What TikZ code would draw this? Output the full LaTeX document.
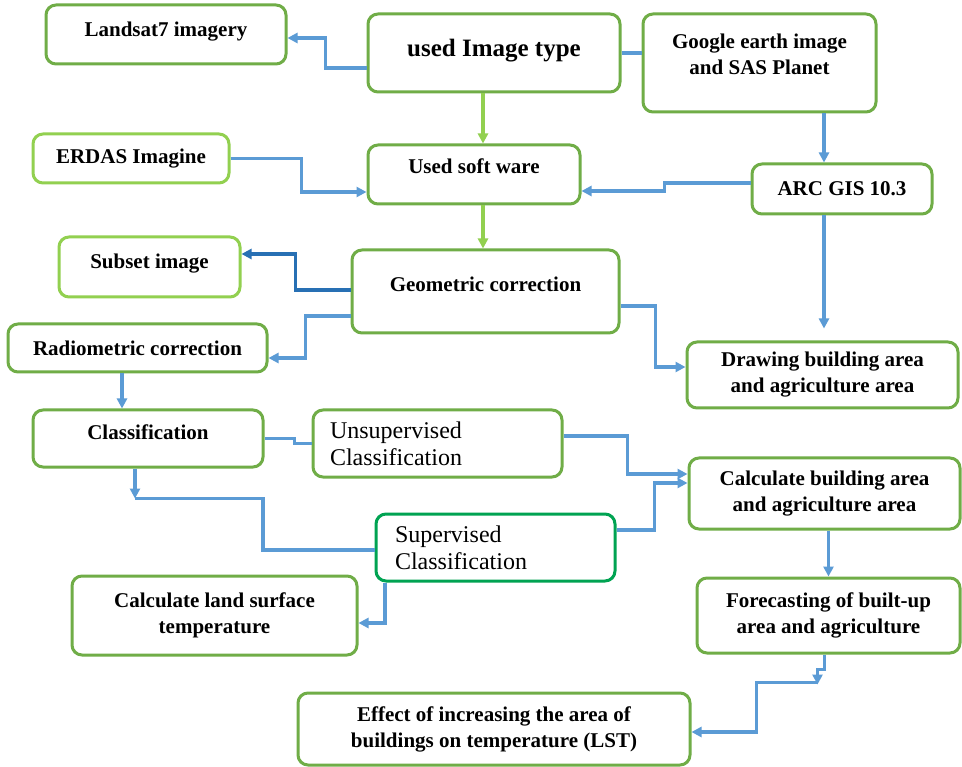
\documentclass[tikz,border=0pt]{standalone}
\usepackage{fontspec}
\setmainfont{Liberation Serif}
\usepackage{tikz}
\usetikzlibrary{arrows.meta, calc}
\definecolor{boxgreen}{RGB}{112,173,71}
\definecolor{lightgreen}{RGB}{146,208,80}
\definecolor{supgreen}{RGB}{0,163,82}
\definecolor{flowblue}{RGB}{91,155,213}
\definecolor{darkflow}{RGB}{40,112,180}
\tikzset{
    stagebox/.style={draw=boxgreen, line width=3pt, rounded corners=10pt, fill=white, align=center, inner sep=0pt, font=\bfseries\fontsize{21}{26}\selectfont},
    lightbox/.style={stagebox, draw=lightgreen},
    classbox/.style={stagebox, align=left, inner xsep=17pt, inner ysep=0pt, font=\fontsize{24}{27}\selectfont},
    flow/.style={-{Triangle[length=10pt,width=10pt]}, draw=flowblue, line width=3.2pt},
    flowline/.style={draw=flowblue, line width=3.2pt},
    flowgreen/.style={flow, draw=lightgreen},
    flowdark/.style={flow, draw=darkflow},
}

\begin{document}
\begin{tikzpicture}[x=1pt, y=-1pt]
        \fill[white] (0,0) rectangle (962,767);
        \useasboundingbox (0,0) rectangle (962,767);
        % Input data and software
        \node[stagebox, minimum width=240pt, minimum height=59pt, text depth=11pt] (land) at (166,34.5) {Landsat7 imagery};
        \node[stagebox, minimum width=252pt, minimum height=78pt, text depth=10pt, font=\bfseries\fontsize{25}{30}\selectfont] (imgtype) at (494,53) {used Image type};
        \node[stagebox, minimum width=233pt, minimum height=98pt, text depth=17pt] (google) at (759.5,63) {Google earth image\\and SAS Planet};
        \node[lightbox, minimum width=196pt, minimum height=49pt] (erdas) at (131,158.5) {ERDAS Imagine};
        \node[stagebox, minimum width=212pt, minimum height=59pt, text depth=17pt] (soft) at (474,174.5) {Used soft ware};
        \node[stagebox, minimum width=180pt, minimum height=50pt] (arc) at (842,189) {ARC GIS 10.3};
        % Processing
        \node[lightbox, minimum width=181pt, minimum height=60pt, text depth=11pt] (subset) at (149.5,267) {Subset image};
        \node[stagebox, minimum width=267pt, minimum height=83pt, text depth=15pt] (geo) at (485.5,291.5) {Geometric correction};
        \node[stagebox, minimum width=259pt, minimum height=48pt] (radio) at (137.5,348) {Radiometric correction};
        \node[stagebox, minimum width=271pt, minimum height=66pt] (draw) at (822.5,375) {Drawing building area\\and agriculture area};
        \node[stagebox, minimum width=230pt, minimum height=57pt, text depth=13pt] (cls) at (148,438.5) {Classification};
        \node[classbox, text width=215pt, minimum height=67pt] (unsup) at (437.5,443.5) {Unsupervised\\Classification};
        \node[stagebox, minimum width=271pt, minimum height=71pt] (calcb) at (824.5,493.5) {Calculate building area\\and agriculture area};
        \node[classbox, draw=supgreen, text width=201pt, inner xsep=19pt, minimum height=67pt] (sup) at (495.5,547.5) {Supervised\\Classification};
        % Results
        \node[stagebox, minimum width=285pt, minimum height=79pt] (lst) at (214.5,615.5) {Calculate land surface\\temperature};
        \node[stagebox, minimum width=263pt, minimum height=75pt] (fore) at (828.5,615.5) {Forecasting of built-up\\area and agriculture};
        \node[stagebox, minimum width=392pt, minimum height=72pt] (effect) at (494,729) {Effect of increasing the area of\\buildings on temperature (LST)};
        % Connectors
        \draw[flow] ([yshift=-15pt]imgtype.west) -- ++(-41,0) |- ([yshift=-3.5pt]land.east);
        \draw[flowline] (imgtype.east) -- (google.west |- imgtype.east);
        \draw[flowgreen] ([xshift=9pt]soft.north |- imgtype.south) -- ([xshift=9pt]soft.north);
        \draw[flow] (erdas.east) -- ++(71,0) |- ([yshift=-17.5pt]soft.west);
        \draw[flow] ([xshift=-18pt]arc.north |- google.south) -- ([xshift=-18pt]arc.north);
        \draw[flow] ([yshift=6pt]arc.west) -- ++(-86,0) |- ([yshift=-16.5pt]soft.east);
        \draw[flowgreen] ([xshift=9pt]soft.south) -- ([xshift=9pt]soft.south |- geo.north);
        \draw[flow] ([xshift=-18pt]arc.south) -- ([xshift=-18pt,yshift=12pt]arc.south |- draw.north);
        \draw[flowdark] ([yshift=1.5pt]geo.west) -- ++(-55,0) |- ([yshift=13pt]subset.east);
        \draw[flow] ([yshift=-24.5pt]geo.west) -- ++(-45,0) |- ([yshift=-10pt]radio.east);
        \draw[flow] ([yshift=-14.5pt]geo.east) -- ++(35,0) |- ([yshift=8pt]draw.west);
        \draw[flow] ([xshift=-15.5pt]radio.south) -- ([xshift=-15.5pt]radio.south |- cls.north);
        \draw[flowline] (cls.east) -- ++(30,0) |- (unsup.west);
        \draw[flow] ([yshift=7.5pt]unsup.east) -- ++(64,0) |- ([yshift=19.5pt]calcb.west);
        \draw[flow] ([xshift=-13pt]cls.south) -- ++(0,30) coordinate (clsdown);
        \draw[flowline] (clsdown) -- ++(128,0) |- ([yshift=-2.5pt]sup.west);
        \draw[flow] ([yshift=17.5pt]sup.east) -- ++(38,0) |- ([yshift=10.5pt]calcb.west);
        \draw[flow] ([xshift=-110.5pt]sup.south) |- ([yshift=-7.5pt]lst.east);
        \draw[flow] (calcb.south -| fore.north) -- (fore.north);
        \draw[flow] ([xshift=-4pt]fore.south) -- ++(0,15) -- ++(-7,0) -- ++(0,15) coordinate (forestep);
        \draw[flow] ([yshift=2pt]forestep) -- ++(-61,0) |- ([yshift=-3pt]effect.east);
\end{tikzpicture}
\end{document}
